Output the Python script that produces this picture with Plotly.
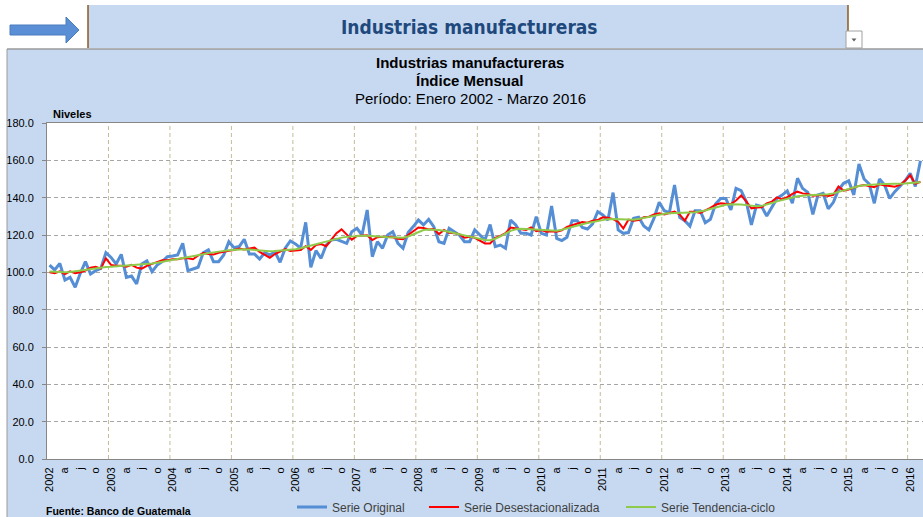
import pandas as pd
import plotly.graph_objects as go

# Monthly index, Jan 2002 - Mar 2016
meses = pd.date_range("2002-01-01", "2016-03-01", freq="MS")

serie_original = [
    103.9, 101.3, 104.8, 95.9, 97.3, 92.0, 99.5, 105.7, 99.1, 100.9, 102.1, 110.5,
    108.0, 104.5, 109.6, 97.3, 98.0, 93.8, 104.5, 106.1, 100.4, 103.9, 105.7, 108.4,
    108.8, 109.3, 115.5, 100.9, 101.8, 102.7, 110.5, 112.0, 105.7, 105.7, 109.3, 116.4,
    113.2, 113.8, 117.7, 109.8, 109.8, 107.1, 110.5, 109.3, 111.0, 105.4, 112.9, 116.8,
    115.2, 112.9, 126.8, 102.7, 111.6, 107.5, 114.6, 117.3, 117.7, 116.4, 115.5, 121.8,
    123.6, 120.0, 133.4, 108.4, 116.4, 112.9, 120.0, 121.8, 115.5, 112.9, 121.3, 124.5,
    128.0, 125.4, 128.4, 124.5, 116.4, 115.5, 123.6, 121.8, 120.0, 116.4, 116.4, 122.7,
    120.0, 117.3, 125.6, 113.8, 114.6, 112.9, 128.0, 125.4, 120.9, 120.9, 120.0, 129.8,
    120.9, 120.0, 135.5, 118.2, 117.0, 118.8, 127.7, 127.7, 124.1, 123.2, 125.9, 132.5,
    130.7, 128.0, 142.7, 122.7, 120.9, 121.3, 128.9, 129.5, 124.8, 122.7, 129.0, 137.5,
    133.0, 132.0, 146.8, 129.5, 127.7, 124.8, 133.0, 133.0, 126.6, 128.4, 136.6, 139.6,
    139.6, 133.4, 145.0, 143.8, 137.9, 125.4, 136.0, 135.2, 130.2, 134.8, 139.6, 141.4,
    143.6, 137.0, 150.4, 145.0, 142.9, 131.0, 141.5, 142.3, 134.0, 137.5, 144.1, 147.7,
    149.0, 141.5, 158.0, 150.0, 147.3, 137.0, 150.0, 146.8, 139.6, 143.2, 145.9, 149.0,
    153.0, 146.0, 159.8,
]

serie_desest = [
    100.0, 99.5, 100.5, 99.0, 100.5, 99.5, 100.0, 101.0, 102.5, 103.0, 102.0, 107.5,
    104.0, 103.5, 103.5, 103.0, 104.0, 102.5, 102.0, 103.5, 104.5, 105.5, 106.5, 106.5,
    107.0, 107.0, 107.5, 107.5, 107.0, 109.0, 110.3, 109.8, 109.5, 110.5, 110.8, 111.5,
    112.0, 112.8, 112.2, 112.9, 113.2, 111.0, 109.5, 107.8, 109.8, 111.2, 112.5, 111.4,
    111.6, 112.0, 114.0, 112.0, 114.6, 115.2, 114.0, 117.5, 121.0, 123.0, 120.0, 117.5,
    119.5, 119.5, 119.8, 117.3, 118.8, 119.0, 119.0, 118.8, 118.0, 117.7, 120.0, 121.8,
    124.0, 123.8, 123.0, 123.2, 120.5, 122.7, 121.2, 121.0, 120.5, 118.5, 119.0, 118.5,
    117.0, 115.5, 115.5, 118.5, 119.5, 121.0, 124.0, 123.6, 123.0, 122.7, 124.0, 122.0,
    122.7, 121.8, 122.0, 121.8, 122.5, 124.3, 125.2, 125.9, 127.0, 126.6, 127.7, 128.0,
    129.5, 129.3, 128.5, 127.0, 123.5, 128.2, 127.7, 128.0, 129.5, 129.8, 131.0, 131.6,
    131.0, 131.8, 132.5, 131.0, 127.7, 132.5, 132.5, 131.8, 133.0, 134.5, 136.2, 137.0,
    136.7, 136.6, 138.5, 141.2, 138.0, 134.3, 134.7, 134.8, 137.0, 137.9, 140.2, 139.0,
    140.2, 142.0, 143.2, 142.3, 142.0, 141.0, 141.3, 141.4, 140.9, 141.5, 146.0, 143.8,
    144.4, 145.5, 146.3, 146.8, 146.0, 145.6, 147.2, 146.5, 146.3, 145.9, 146.8, 149.0,
    152.0, 147.5, 148.5,
]

serie_tendencia = [
    100.5, 100.3, 100.1, 100.0, 100.2, 100.6, 101.0, 101.5, 102.0, 102.5, 102.7, 102.9,
    103.0, 103.2, 103.3, 103.5, 103.7, 103.8, 104.0, 104.3, 104.7, 105.1, 105.6, 106.0,
    106.5, 106.9, 107.3, 107.8, 108.3, 109.0, 109.7, 110.3, 110.8, 111.2, 111.5, 111.8,
    112.0, 112.2, 112.3, 112.2, 111.9, 111.6, 111.4, 111.3, 111.4, 111.6, 111.8, 112.0,
    112.4, 112.9, 113.5, 114.2, 115.0, 115.8, 116.6, 117.3, 118.0, 118.6, 119.0, 119.3,
    119.5, 119.6, 119.6, 119.5, 119.3, 119.0, 118.8, 118.6, 118.4, 118.5, 119.2, 120.5,
    121.8, 122.7, 123.0, 123.0, 122.7, 122.3, 121.8, 121.1, 120.4, 119.8, 119.2, 118.6,
    117.9, 117.3, 117.2, 118.0, 119.3, 120.8, 122.2, 123.1, 123.4, 123.2, 123.0, 122.8,
    122.5, 122.3, 122.2, 122.3, 122.8, 123.6, 124.5, 125.2, 125.8, 126.4, 127.0, 127.6,
    128.2, 128.5, 128.6, 128.4, 128.2, 128.1, 128.2, 128.6, 129.2, 129.9, 130.5, 131.0,
    131.4, 131.7, 131.9, 132.0, 132.0, 132.1, 132.2, 132.5, 133.1, 133.9, 134.8, 135.6,
    136.2, 136.5, 136.5, 136.3, 136.0, 135.6, 135.4, 135.6, 136.2, 137.1, 138.0, 138.8,
    139.5, 140.1, 140.7, 141.1, 141.3, 141.4, 141.5, 141.6, 141.8, 142.3, 143.1, 144.0,
    144.9, 145.6, 146.2, 146.6, 146.9, 147.1, 147.2, 147.3, 147.3, 147.3, 147.4, 147.6,
    147.8, 148.0, 148.3,
]

etiquetas_mes = {1: None, 4: "a", 7: "j", 10: "o"}

W, H = 923, 517
L, R, T, B = 47, 0, 123, 58
PW, PH = W - L - R, H - T - B


def px(p):
    return (p - L) / PW


def py(p):
    return (H - B - p) / PH


x = list(range(len(meses)))
tickvals, ticktext = [], []
for i, m in enumerate(meses):
    if m.month in etiquetas_mes:
        tickvals.append(i)
        ticktext.append(str(m.year) if m.month == 1 else etiquetas_mes[m.month])
years_idx = [i for i, m in enumerate(meses) if m.month == 1]

FONT = "Liberation Sans, Arial, sans-serif"
NARROW = "Liberation Sans Narrow, Arial Narrow, DejaVu Sans Condensed, sans-serif"
CHART_BG = "#C6D9F1"

fig = go.Figure()
fig.add_scatter(x=x, y=serie_original, mode="lines", name="Serie Original",
                line={"color": "#558ED5", "width": 3}, legend="legend")
fig.add_scatter(x=x, y=serie_desest, mode="lines", name="Serie Desestacionalizada",
                line={"color": "#FF0000", "width": 2}, legend="legend2")
fig.add_scatter(x=x, y=serie_tendencia, mode="lines", name="Serie Tendencia-ciclo",
                line={"color": "#8FCB4A", "width": 2}, legend="legend3")

shapes = []
# year grid lines (dashed tan)
for i in years_idx[1:]:
    shapes.append(dict(type="line", xref="x", yref="y", x0=i - 0.5, x1=i - 0.5, y0=0, y1=180,
                       line={"color": "#C4BD97", "width": 1, "dash": "4px,3px"}, layer="below"))
# white strips around the chart area
shapes.append(dict(type="rect", xref="paper", yref="paper", x0=px(-2), x1=px(W + 2),
                   y0=py(49), y1=py(-2), fillcolor="white", line={"width": 0}))
shapes.append(dict(type="rect", xref="paper", yref="paper", x0=px(-2), x1=px(7),
                   y0=py(H + 2), y1=py(49), fillcolor="white", line={"width": 0}))
shapes.append(dict(type="line", xref="paper", yref="paper", x0=px(7), x1=px(W + 2),
                   y0=py(49), y1=py(49), line={"color": "#9A9A9A", "width": 1.5}))
shapes.append(dict(type="line", xref="paper", yref="paper", x0=px(7), x1=px(7),
                   y0=py(49), y1=py(H + 2), line={"color": "#9A9A9A", "width": 1}))
# header box
shapes.append(dict(type="rect", xref="paper", yref="paper", x0=px(88), x1=px(848),
                   y0=py(48), y1=py(5), fillcolor=CHART_BG, line={"width": 0}))
for xe in (88, 848):
    shapes.append(dict(type="line", xref="paper", yref="paper", x0=px(xe), x1=px(xe),
                       y0=py(48), y1=py(5), line={"color": "#8B5A1E", "width": 1.5}))
# dropdown button
shapes.append(dict(type="rect", xref="paper", yref="paper", x0=px(846), x1=px(862),
                   y0=py(48), y1=py(31), fillcolor="white", line={"color": "#A0A0A0", "width": 1}))
shapes.append(dict(type="path", xref="paper", yref="paper",
                   path=f"M {px(851.5)},{py(38.5)} L {px(856.5)},{py(38.5)} L {px(854)},{py(41.5)} Z",
                   fillcolor="#606060", line={"width": 0}))
# arrow
arrow = [(10, 25), (66, 25), (66, 17), (79, 30), (66, 43), (66, 35), (10, 35)]
path = "M " + " L ".join(f"{px(a)},{py(b)}" for a, b in arrow) + " Z"
shapes.append(dict(type="path", xref="paper", yref="paper", path=path,
                   fillcolor="#5A8FD6", line={"color": "#4A7CC0", "width": 1}))

annotations = [
    dict(text="<b>Industrias manufactureras</b>", x=px(469), y=py(27),
         font={"family": NARROW, "size": 19, "color": "#1F497D"}),
    dict(text="<b>Industrias manufactureras</b>", x=px(470), y=py(63),
         font={"size": 15, "color": "black"}),
    dict(text="<b>Índice Mensual</b>", x=px(470), y=py(80),
         font={"size": 15, "color": "black"}),
    dict(text="Período: Enero 2002 - Marzo 2016", x=px(470), y=py(98),
         font={"size": 15, "color": "black"}),
    dict(text="<b>Niveles</b>", x=px(51), y=py(114), xanchor="left",
         font={"size": 11, "color": "black"}),
    dict(text="<b>Fuente: Banco de Guatemala</b>", x=px(44), y=py(511), xanchor="left",
         font={"size": 10.5, "color": "black"}),
]
for a in annotations:
    a.update(xref="paper", yref="paper", showarrow=False)
    a.setdefault("xanchor", "center")
    a["yanchor"] = "middle"

legend_style = dict(orientation="h", yanchor="middle", xanchor="left", y=py(507),
                    bgcolor="rgba(0,0,0,0)", font={"size": 12, "color": "#404040"})

fig.update_layout(
    width=W, height=H,
    margin={"l": L, "r": R, "t": T, "b": B, "pad": 0, "autoexpand": False},
    paper_bgcolor=CHART_BG, plot_bgcolor="white",
    font={"family": FONT, "color": "black"},
    shapes=shapes, annotations=annotations,
    showlegend=True,
    legend={**legend_style, "x": px(292)},
    legend2={**legend_style, "x": px(424)},
    legend3={**legend_style, "x": px(621)},
    hovermode=False,
)
fig.update_xaxes(range=[-0.5, len(meses) - 0.5], tickmode="array", tickvals=tickvals,
                 ticktext=ticktext, tickangle=-90, tickfont={"size": 11}, showgrid=False,
                 zeroline=False, showline=True, mirror=True, linecolor="#868686", ticks="",
                 ticklabelstandoff=3)
fig.update_yaxes(range=[0, 180], tickmode="array", tickvals=list(range(0, 181, 20)),
                 tickformat=".1f", tickfont={"size": 11}, showgrid=True,
                 gridcolor="#A6A6A6", griddash="4px,3px", zeroline=False, showline=True,
                 linecolor="#868686", ticks="outside", ticklen=4, tickcolor="#868686",
                 ticklabelstandoff=6)

fig.write_html("out.html", config={"displayModeBar": False},
               post_script="document.body.style.margin='0px';document.body.style.overflow='hidden';")
